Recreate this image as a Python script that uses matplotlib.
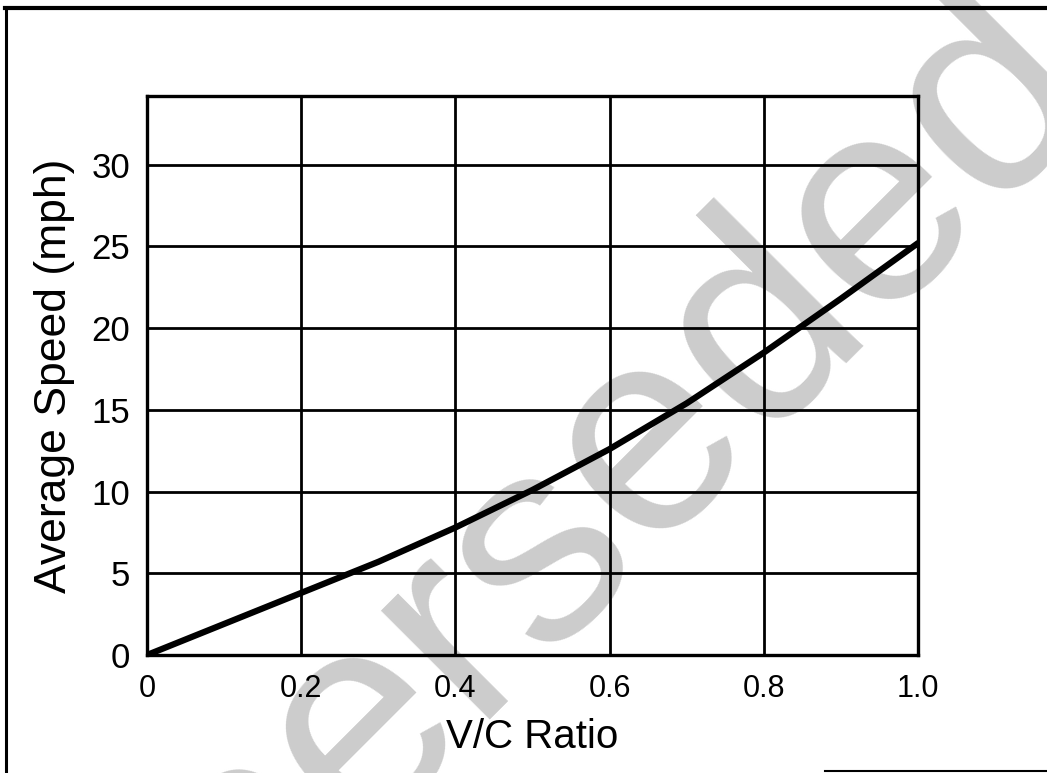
import matplotlib
matplotlib.use("Agg")
import matplotlib.pyplot as plt
from matplotlib.lines import Line2D

# Data
vc_ratio = [0.0, 0.1, 0.2, 0.3, 0.4, 0.5, 0.6, 0.7, 0.8, 0.9, 1.0]
avg_speed = [0.0, 1.9, 3.8, 5.7, 7.8, 10.1, 12.6, 15.4, 18.5, 21.8, 25.2]
x_ticks = [0.0, 0.2, 0.4, 0.6, 0.8, 1.0]
x_tick_labels = ["0", "0.2", "0.4", "0.6", "0.8", "1.0"]
y_ticks = [0, 5, 10, 15, 20, 25, 30]
y_tick_labels = ["0", "5", "10", "15", "20", "25", "30"]
watermark = "Superseded"

plt.rcParams['font.family'] = ['Liberation Sans', 'DejaVu Sans']

fig = plt.figure(figsize=(10.47, 7.73), dpi=100)
fig.patch.set_facecolor('white')

# watermark behind everything
fig.text(0.523, 0.160, watermark, fontsize=210, color='#cccccc',
         rotation=45, rotation_mode='anchor', ha='center', va='baseline',
         zorder=-10)

# outer border lines (scan frame)
fig.add_artist(Line2D([5/1047, 1.0], [1 - 8/773, 1 - 8/773], color='black', lw=3.0))
fig.add_artist(Line2D([6/1047, 6/1047], [0, 1 - 8/773], color='black', lw=2.2))
fig.add_artist(Line2D([825/1047, 1.0], [1 - 771/773, 1 - 771/773], color='black', lw=1.5))

ax = fig.add_axes([147/1047, 1 - 655/773, (918 - 147)/1047, (655 - 96)/773])
ax.set_facecolor('none')
ax.plot(vc_ratio, avg_speed, color='black', lw=4.5, solid_capstyle='round',
        solid_joinstyle='round', zorder=5)

ax.set_xlim(0, 1.0)
ax.set_ylim(0, 34.2)
ax.set_xticks(x_ticks)
ax.set_xticklabels(x_tick_labels, fontsize=22)
ax.set_yticks(y_ticks)
ax.set_yticklabels(y_tick_labels, fontsize=25)
ax.tick_params(axis='both', length=0)
ax.tick_params(axis='x', pad=14)
ax.tick_params(axis='y', pad=12)
ax.grid(True, color='black', lw=2.0)
ax.set_axisbelow(False)
for s in ax.spines.values():
    s.set_linewidth(2.4)
    s.set_color('black')

ax.set_xlabel("V/C Ratio", fontsize=29, labelpad=10)
ax.set_ylabel("Average Speed (mph)", fontsize=32, labelpad=12)

fig.savefig("out.png", dpi=100)
